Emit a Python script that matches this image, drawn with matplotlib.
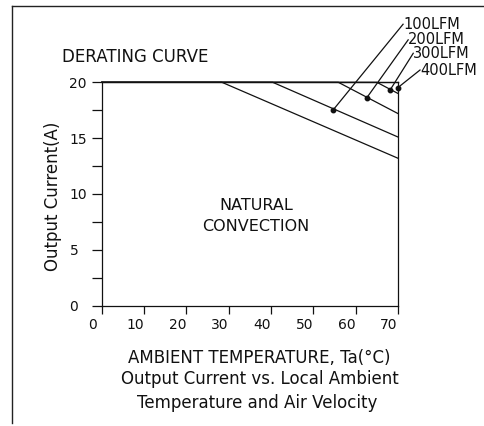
import matplotlib
matplotlib.use("Agg")
import matplotlib.pyplot as plt
from matplotlib.lines import Line2D
from matplotlib.transforms import ScaledTranslation

# ---- data ----
nat_t = [0, 28.4, 70]
nat_i = [20, 20, 13.2]
lfm100_t = [0, 40.4, 70]
lfm100_i = [20, 20, 15.1]
lfm200_t = [0, 55.9, 70]
lfm200_i = [20, 20, 17.2]
lfm300_t = [0, 65.0, 70]
lfm300_i = [20, 20, 19.0]
lfm400_t = [0, 70]
lfm400_i = [20, 20]

labels = ["100LFM", "200LFM", "300LFM", "400LFM"]
dot_t = [54.75, 62.6, 68.2, 69.9]
dot_i = [17.56, 18.6, 19.35, 19.5]
lab_t = [71.2, 72.4, 73.6, 75.2]
lab_i = [25.2, 23.8, 22.6, 21.1]

xticks = [0, 10, 20, 30, 40, 50, 60, 70]
yticks_major = [0, 5, 10, 15, 20]
yticks_minor = [2.5, 7.5, 12.5, 17.5]

W, H = 484, 426
fig = plt.figure(figsize=(W / 100, H / 100), dpi=100)
fig.patch.set_facecolor("white")
ax = fig.add_axes([101.7 / W, 1 - 305.7 / H, 296.3 / W, 223.4 / H])
ax.set_xlim(0, 70)
ax.set_ylim(0, 20)

lc = "#111111"
lw = 0.9
for s in ax.spines.values():
    s.set_linewidth(lw)
    s.set_color(lc)

for t, i in [(nat_t, nat_i), (lfm100_t, lfm100_i), (lfm200_t, lfm200_i),
             (lfm300_t, lfm300_i), (lfm400_t, lfm400_i)]:
    ax.plot(t, i, color=lc, lw=lw, clip_on=False)

for dt, di, lt, li, lab in zip(dot_t, dot_i, lab_t, lab_i, labels):
    ax.plot([dt, lt], [di, li], color=lc, lw=lw, clip_on=False)
    ax.plot([dt], [di], 'o', color=lc, ms=3.2, clip_on=False)
    ax.text(lt, li, lab, ha='left', va='center', fontsize=10.5, color=lc,
            clip_on=False)

ax.set_xticks(xticks)
ax.set_xticklabels([str(v) for v in xticks])
ax.set_yticks(yticks_major)
ax.set_yticklabels([str(v) for v in yticks_major])
ax.set_yticks(yticks_minor, minor=True)

ax.tick_params(axis='x', direction='out', length=5.8, width=lw, color=lc,
               labelsize=10, pad=3, labelcolor=lc)
ax.tick_params(axis='y', which='both', direction='out', length=7.2, width=lw,
               color=lc, labelsize=10, labelcolor=lc)
ax.tick_params(axis='y', which='major', pad=16)
for lbl in ax.get_yticklabels():
    lbl.set_horizontalalignment('left')
off = ScaledTranslation(-9 / 100, 0, fig.dpi_scale_trans)
for lbl in ax.get_xticklabels():
    lbl.set_transform(lbl.get_transform() + off)

ax.text(36.5, 9.0, "NATURAL", ha='center', va='center', fontsize=11.5, color=lc)
ax.text(36.5, 7.05, "CONVECTION", ha='center', va='center', fontsize=11.5, color=lc)

fig.text(61.7 / W, 1 - 57.5 / H, "DERATING CURVE", ha='left', va='center',
         fontsize=12, color=lc)
fig.text(53 / W, 1 - 196 / H, "Output Current(A)", rotation=90, ha='center',
         va='center', fontsize=12, color=lc)
fig.text(259.5 / W, 1 - 358 / H, "AMBIENT TEMPERATURE, Ta(°C)", ha='center',
         va='center', fontsize=12, color=lc)
fig.text(260 / W, 1 - 379 / H, "Output Current vs. Local Ambient", ha='center',
         va='center', fontsize=12, color=lc)
fig.text(256.7 / W, 1 - 403 / H, "Temperature and Air Velocity", ha='center',
         va='center', fontsize=12, color=lc)

# page frame lines
fig.add_artist(Line2D([11.5 / W, 1.0], [1 - 6 / H, 1 - 6 / H], color="#222222",
                      lw=1.0, transform=fig.transFigure))
fig.add_artist(Line2D([11.5 / W, 11.5 / W], [1 - 6 / H, 1 - 423 / H],
                      color="#222222", lw=1.0, transform=fig.transFigure))

fig.savefig("out.png", dpi=100)
